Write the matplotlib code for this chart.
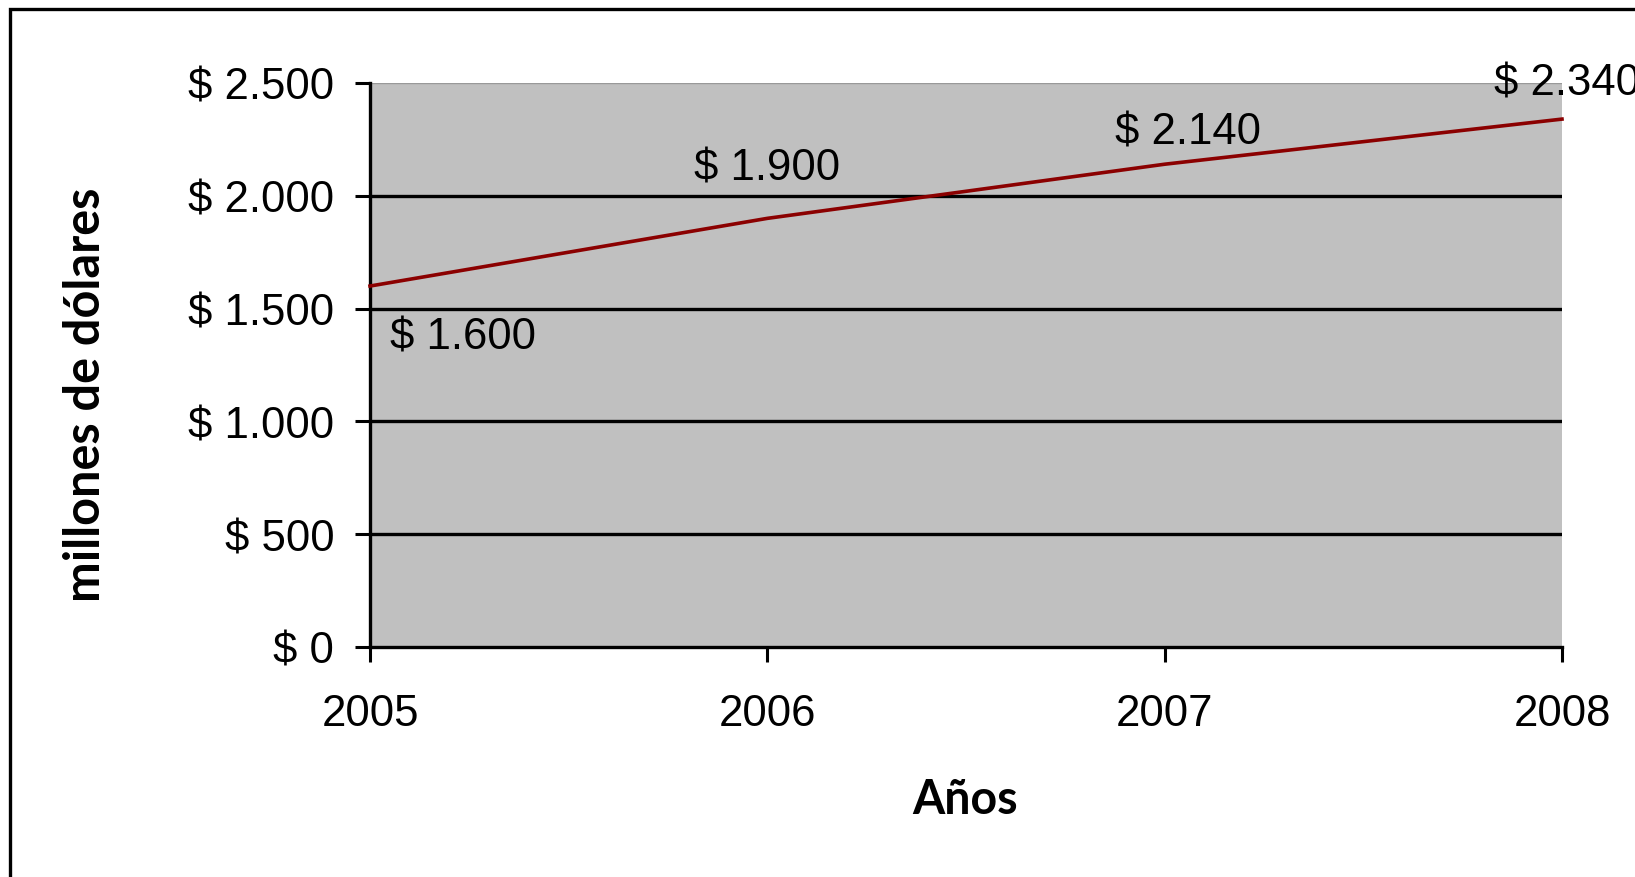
import matplotlib
matplotlib.use("Agg")
from matplotlib import pyplot as plt
from matplotlib.patches import Rectangle

# data
years = [2005, 2006, 2007, 2008]
values = [1600, 1900, 2140, 2340]
yTicks = [0, 500, 1000, 1500, 2000, 2500]
yTickLabels = ["$ 0", "$ 500", "$ 1.000", "$ 1.500", "$ 2.000", "$ 2.500"]
pointLabels = ["$ 1.600", "$ 1.900", "$ 2.140", "$ 2.340"]

# label offsets in pixels (dx, dy) relative to each point
labelOffsets = [(93, -51), (0, 50), (23, 32), (5, 36)]

plt.rcParams['font.family'] = ['Liberation Sans', 'DejaVu Sans']

fig = plt.figure(figsize=(16.35, 8.78), dpi=100)
fig.patch.set_facecolor("white")
ax = fig.add_axes([370/1635, 1 - 648/878, (1562-370)/1635, (648-84)/878])
ax.set_facecolor("#c0c0c0")

# gridlines (top one lighter like the plot-area edge)
for v in yTicks[1:-1]:
    ax.axhline(v, color="black", lw=2.4, zorder=1)
ax.axhline(yTicks[-1], color="#999999", lw=1.0, zorder=1)

ax.plot(years, values, color="#8b0000", lw=2.6, zorder=3, clip_on=False)

px = 0.72  # points per pixel at dpi 100
for x, y, txt, (dx, dy) in zip(years, values, pointLabels, labelOffsets):
    ax.annotate(txt, (x, y), xytext=(dx*px, dy*px), textcoords="offset points",
                ha="center", va="center", fontsize=31.5, annotation_clip=False, zorder=4)

ax.set_xlim(years[0], years[-1])
ax.set_ylim(yTicks[0], yTicks[-1])
ax.set_xticks(years)
ax.set_xticklabels([str(y) for y in years])
ax.set_yticks(yTicks)
ax.set_yticklabels(yTickLabels)
ax.tick_params(axis="both", labelsize=31.5, direction="out", length=10.8, width=2.2, color="black")
ax.tick_params(axis="y", pad=15)
ax.tick_params(axis="x", pad=22)

for s in ["top", "right"]:
    ax.spines[s].set_visible(False)
for s in ["left", "bottom"]:
    ax.spines[s].set_linewidth(2.4)
    ax.spines[s].set_color("black")

# axis titles
fig.text(965/1635, 1 - 800/878, "Años", fontsize=33.5, fontweight="bold",
         family=["Lato", "DejaVu Sans"], ha="center", va="center")
fig.text(85/1635, 1 - 395/878, "millones de dólares", fontsize=35, fontweight="bold",
         family=["Lato", "DejaVu Sans"], ha="center", va="center", rotation=90)

# outer chart frame (cut by the image edges on right and bottom)
fig.patches.append(Rectangle((10/1635, -0.1), 1.2, 1 - 10/878 + 0.1, transform=fig.transFigure,
                             fill=False, edgecolor="black", lw=2.4, zorder=0))

fig.savefig("out.png", dpi=100)
